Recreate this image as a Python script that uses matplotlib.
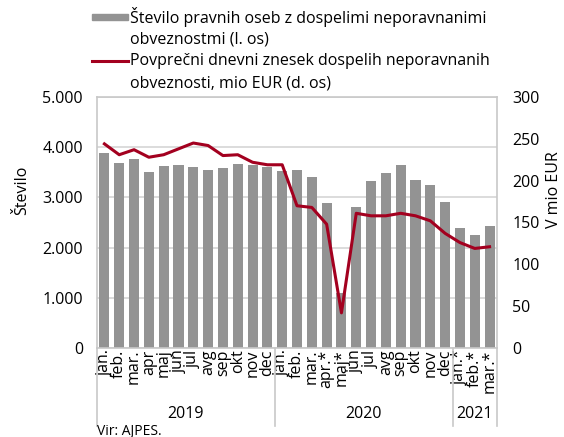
import numpy as np
import matplotlib
matplotlib.use('Agg')
import matplotlib.pyplot as plt
from matplotlib.lines import Line2D
from matplotlib.patches import Rectangle
from matplotlib.ticker import FuncFormatter

# mesečni podatki, jan. 2019 - mar. 2021
meseci = ['jan.', 'feb.', 'mar.', 'apr', 'maj', 'jun', 'jul', 'avg', 'sep', 'okt', 'nov', 'dec',
          'jan.', 'feb.', 'mar.', 'apr.*', 'maj*', 'jun', 'jul', 'avg', 'sep', 'okt', 'nov', 'dec',
          'jan.*', 'feb.*', 'mar.*']
leta = ['2019', '2020', '2021']
st_mesecev = [12, 12, 3]

# število pravnih oseb (l. os)
st_oseb = [3880, 3690, 3770, 3510, 3625, 3645, 3605, 3545, 3585, 3670, 3645, 3605,
           3530, 3545, 3400, 2895, 1100, 2815, 3325, 3490, 3645, 3345, 3240, 2915,
           2390, 2245, 2430]
# povprečni dnevni znesek, mio EUR (d. os)
znesek = [244, 231, 237, 228, 231, 238, 245, 242, 230, 231, 222, 219,
          219, 170, 168, 148, 42, 161, 158, 158, 161, 158, 152, 137,
          126, 119, 121]

siva = '#939393'
rdeca = '#a3001f'
okvir = '#c8c8c8'

plt.rcParams['font.family'] = ['Open Sans', 'DejaVu Sans']
plt.rcParams['font.size'] = 11.5

W, H = 564, 437
fig = plt.figure(figsize=(W / 100, H / 100), dpi=100)
ax = fig.add_axes([97 / W, 1 - 348 / H, 400 / W, 251 / H])

x = np.arange(len(meseci))
ax.bar(x, st_oseb, width=0.68, color=siva, zorder=2)
ax.set_xlim(-0.5, len(meseci) - 0.5)
ax.set_ylim(0, 5000)
ax.set_yticks(range(0, 5001, 1000))
ax.yaxis.set_major_formatter(FuncFormatter(lambda v, p: f'{int(v):,}'.replace(',', '.')))
ax.grid(axis='y', color='#d6d6d6', lw=1.2, zorder=0)
ax.set_axisbelow(True)
ax.tick_params(axis='y', length=0, pad=10)
ax.tick_params(axis='x', length=0, pad=1)
ax.set_xticks(x)
ax.set_xticklabels(meseci, rotation=90, va='top', ha='center')
for s in ax.spines.values():
    s.set_color(okvir)
    s.set_linewidth(1.2)

ax2 = ax.twinx()
ax2.plot(x, znesek, color=rdeca, lw=2.2, zorder=3)
ax2.set_ylim(0, 300)
ax2.set_yticks(range(0, 301, 50))
ax2.tick_params(axis='y', length=0, pad=11)
for s in ax2.spines.values():
    s.set_visible(False)

# razdelitev po letih pod osjo x
tr = ax.get_xaxis_transform()
meje = np.concatenate([[0], np.cumsum(st_mesecev)]) - 0.5
for m in meje:
    ax.plot([m, m], [0, -(426 - 348) / 251], transform=tr, color=okvir, lw=1.2, clip_on=False)
for i, leto in enumerate(leta):
    ax.text((meje[i] + meje[i + 1]) / 2, -(414 - 348) / 251, leto, transform=tr,
            ha='center', va='center')

fig.text(22 / W, 1 - 190 / H, 'Število', rotation=90, ha='center', va='center')
fig.text(554 / W, 1 - 190 / H, 'V mio EUR', rotation=90, ha='center', va='center')

# legenda
fig.add_artist(Rectangle((92 / W, 1 - 20 / H), 36 / W, 6 / H, transform=fig.transFigure,
                         color=siva))
fig.add_artist(Line2D([92 / W, 128 / W], [1 - 61 / H] * 2, transform=fig.transFigure,
                      color=rdeca, lw=2.2))
vrstice = ['Število pravnih oseb z dospelimi neporavnanimi',
           'obveznostmi (l. os)',
           'Povprečni dnevni znesek dospelih neporavnanih',
           'obveznosti, mio EUR (d. os)']
for k, t in enumerate(vrstice):
    fig.text(130 / W, 1 - (17 + 22 * k) / H, t, va='center')

fig.text(97 / W, 1 - 431 / H, 'Vir: AJPES.', va='center', fontsize=10)

fig.savefig('out.png', dpi=100)
